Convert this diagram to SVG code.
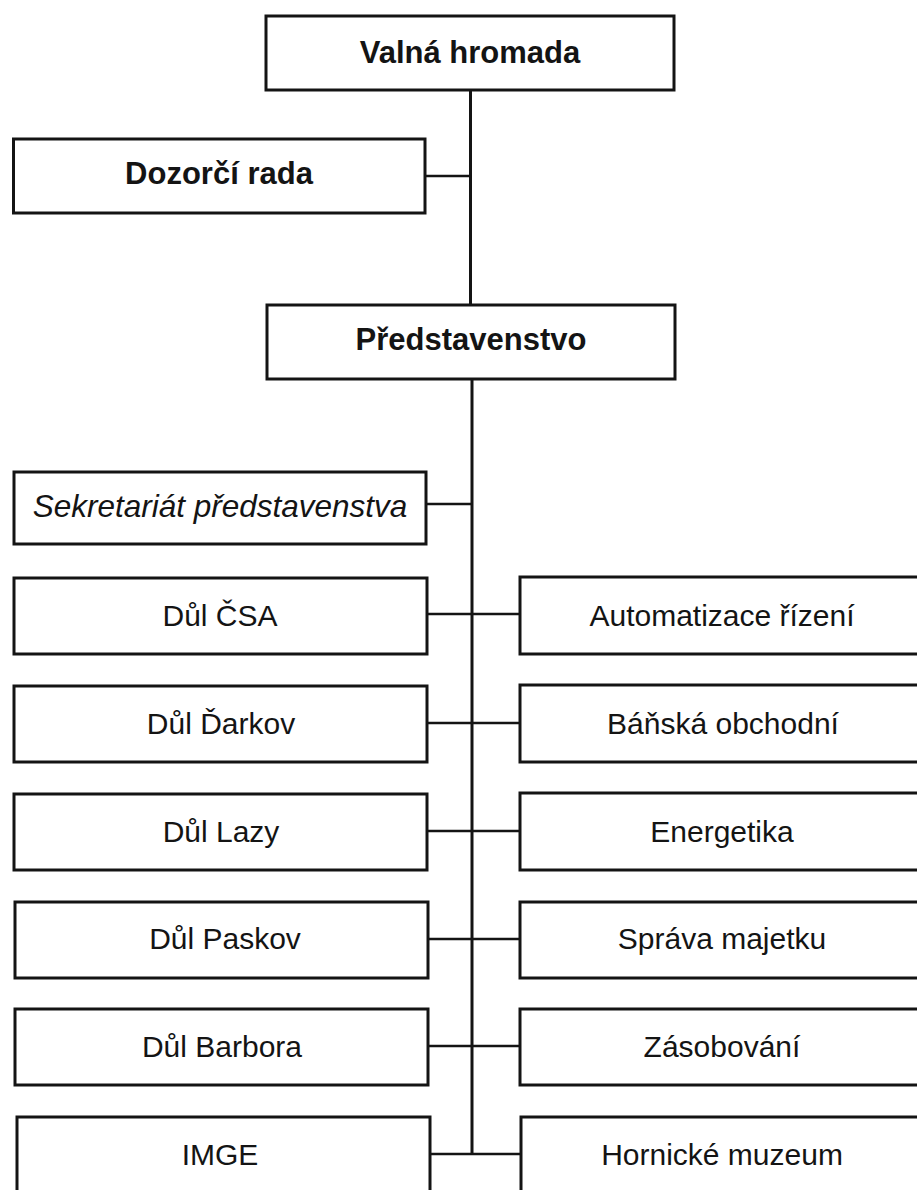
<svg xmlns="http://www.w3.org/2000/svg" width="917" height="1190" viewBox="0 0 917 1190">
<style>
.box{fill:#fff;stroke:#141414;stroke-width:3}
.ln{stroke:#141414;stroke-width:3;fill:none}
.hl{stroke:#141414;stroke-width:2.6;fill:none}
.b{font-family:"Liberation Sans",Arial,sans-serif;font-weight:bold;font-size:31px;fill:#141414;text-anchor:middle}
.t{font-family:"Liberation Sans",Arial,sans-serif;font-size:30px;fill:#141414;text-anchor:middle}
.i{font-style:italic;font-size:31.5px}
</style>
<rect width="917" height="1190" fill="#fff"/>
<g id="connectors">
<line class="ln" x1="470.5" y1="90" x2="470.5" y2="305"/>
<line class="ln" x1="472" y1="379" x2="472" y2="1155"/>
<line class="hl" x1="425" y1="176" x2="471" y2="176"/>
<line class="hl" x1="426" y1="504" x2="472" y2="504"/>
<line class="hl" x1="427" y1="614" x2="520" y2="614"/>
<line class="hl" x1="427" y1="723" x2="520" y2="723"/>
<line class="hl" x1="427" y1="831" x2="520" y2="831"/>
<line class="hl" x1="427" y1="939" x2="520" y2="939"/>
<line class="hl" x1="427" y1="1046" x2="520" y2="1046"/>
<line class="hl" x1="427" y1="1154" x2="520" y2="1154"/>
</g>
<g id="valna-hromada"><rect class="box" x="266" y="16" width="408" height="74"/><text class="b" x="470" y="63">Valná hromada</text></g>
<g id="dozorci-rada"><rect class="box" x="13.5" y="139" width="411.5" height="74"/><text class="b" x="219" y="184">Dozorčí rada</text></g>
<g id="predstavenstvo"><rect class="box" x="267" y="305" width="408" height="74"/><text class="b" x="471" y="350">Představenstvo</text></g>
<g id="sekretariat"><rect class="box" x="14" y="472" width="412" height="72"/><text class="t i" x="220" y="517">Sekretariát představenstva</text></g>
<g id="dul-csa"><rect class="box" x="14" y="578" width="413" height="76"/><text class="t" x="220" y="626">Důl ČSA</text></g>
<g id="dul-darkov"><rect class="box" x="14" y="686" width="413" height="76"/><text class="t" x="221" y="734">Důl Ďarkov</text></g>
<g id="dul-lazy"><rect class="box" x="14" y="794" width="413" height="76"/><text class="t" x="221" y="842">Důl Lazy</text></g>
<g id="dul-paskov"><rect class="box" x="15" y="902" width="413" height="76"/><text class="t" x="225" y="949">Důl Paskov</text></g>
<g id="dul-barbora"><rect class="box" x="15" y="1009" width="413" height="76"/><text class="t" x="222" y="1057">Důl Barbora</text></g>
<g id="imge"><rect class="box" x="17" y="1117" width="413" height="80"/><text class="t" x="220" y="1165">IMGE</text></g>
<g id="automatizace"><rect class="box" x="520" y="577" width="410" height="77"/><text class="t" x="722" y="626">Automatizace řízení</text></g>
<g id="banska"><rect class="box" x="520" y="685" width="410" height="77"/><text class="t" x="723" y="734">Báňská obchodní</text></g>
<g id="energetika"><rect class="box" x="520" y="793" width="410" height="77"/><text class="t" x="722" y="842">Energetika</text></g>
<g id="sprava"><rect class="box" x="520" y="902" width="410" height="76"/><text class="t" x="722" y="949">Správa majetku</text></g>
<g id="zasobovani"><rect class="box" x="520" y="1009" width="410" height="76"/><text class="t" x="722" y="1057">Zásobování</text></g>
<g id="hornicke"><rect class="box" x="521" y="1117" width="410" height="80"/><text class="t" x="722" y="1165">Hornické muzeum</text></g>
</svg>
